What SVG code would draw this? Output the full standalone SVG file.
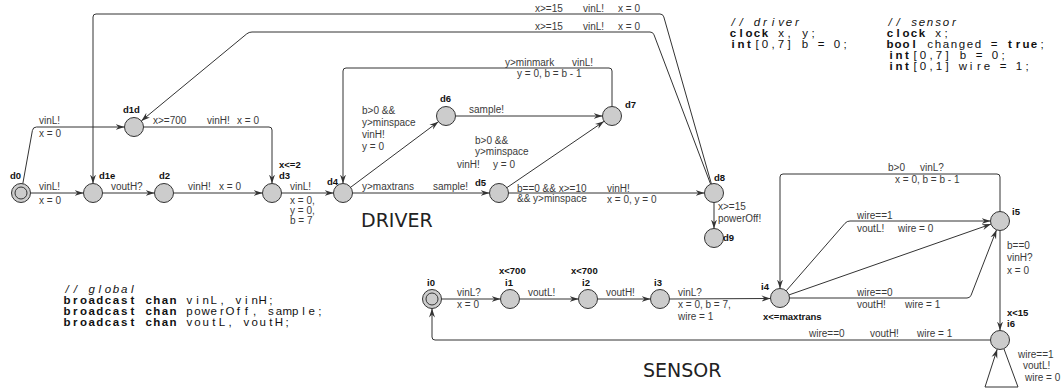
<svg xmlns="http://www.w3.org/2000/svg" width="1064" height="391" viewBox="0 0 1064 391">
<style>
.n{fill:#cccccc;stroke:#333;stroke-width:1}
.e{fill:none;stroke:#333;stroke-width:1}
.l{font-family:"Liberation Sans",Arial,sans-serif;font-size:10px;fill:#3a3a3a}
.b{font-family:"Liberation Sans",Arial,sans-serif;font-size:9.5px;font-weight:bold;fill:#111}
.d{font-family:"Liberation Sans",Arial,sans-serif;font-size:11.5px;fill:#111;text-anchor:middle}
.d .k{font-weight:bold}
.d .c{font-style:italic}
.t{font-family:"DejaVu Sans",sans-serif;font-size:19px;fill:#222}
</style>
<defs>
<marker id="a" markerUnits="userSpaceOnUse" markerWidth="10" markerHeight="8" refX="9" refY="3.5" orient="auto">
<path d="M0,0.5 L9,3.5 L0,6.5 L3,3.5 z" fill="#333"/>
</marker>
</defs>
<rect width="1064" height="391" fill="#fff"/>

<g id="connectors">
<path class="e" marker-end="url(#a)" d="M30.5,193 L83.5,193"/>
<path class="e" marker-end="url(#a)" d="M22.8,183.7 L32.4,130.5 Q33,127 36.5,127 L124.5,127"/>
<path class="e" marker-end="url(#a)" d="M102.5,193 L154.5,193"/>
<path class="e" marker-end="url(#a)" d="M173.5,193 L262.5,193"/>
<path class="e" marker-end="url(#a)" d="M143.5,127 L269,127 Q272,127 272,130 L272,183.5"/>
<path class="e" marker-end="url(#a)" d="M281.5,193 L333.5,193"/>
<path class="e" marker-end="url(#a)" d="M352.5,193 L489.5,193"/>
<path class="e" marker-end="url(#a)" d="M350.6,187.3 L438.4,121.7"/>
<path class="e" marker-end="url(#a)" d="M455.5,116 L602.5,116"/>
<path class="e" marker-end="url(#a)" d="M506.9,187.6 L604.1,121.3"/>
<path class="e" marker-end="url(#a)" d="M612,106.5 L612,71 Q612,68 609,68 L346,68 Q343,68 343,71 L343,183.5"/>
<path class="e" marker-end="url(#a)" d="M508.5,193 L704.5,193"/>
<path class="e" marker-end="url(#a)" d="M714,202.5 L714,228.5"/>
<path class="e" marker-end="url(#a)" d="M711.4,183.9 L663.8,16.9 Q663,14 660,14 L96,14 Q93,14 93,17 L93,183.5"/>
<path class="e" marker-end="url(#a)" d="M710.6,184.1 L654,34.8 Q653,32 650,32 L252,32 Q249,32 246.7,33.9 L141.3,120.9"/>

<path class="e" marker-end="url(#a)" d="M441.5,299 L500.5,299"/>
<path class="e" marker-end="url(#a)" d="M519.5,299 L578.5,299"/>
<path class="e" marker-end="url(#a)" d="M597.5,299 L650.5,299"/>
<path class="e" marker-end="url(#a)" d="M669.5,299 L770.5,298.5"/>
<path class="e" marker-end="url(#a)" d="M1000,211.5 L1000,177 Q1000,174 997,174 L783,174 Q780,174 780,177 L780,288.5"/>
<path class="e" marker-end="url(#a)" d="M786.2,290.8 L845,223.3 Q847,221 850,221 L990.5,221"/>
<path class="e" marker-end="url(#a)" d="M789,294.9 L991,224.1"/>
<path class="e" marker-end="url(#a)" d="M789.5,298 L967,298 Q970,298 971.1,295.2 L996.5,229.9"/>
<path class="e" marker-end="url(#a)" d="M1000,230.5 L1000,330.5"/>
<path class="e" marker-end="url(#a)" d="M990.5,340 L435,340 Q432,340 432,337 L432,308.5"/>
<path class="e" marker-end="url(#a)" d="M1004,349 L1018,387 L985,387 L997.2,349.2"/>
</g>

<g id="edge-labels">
<text class="l" x="39" y="190">vinL!</text>
<text class="l" x="39" y="204">x = 0</text>
<text class="l" x="39" y="124">vinL!</text>
<text class="l" x="39" y="137">x = 0</text>
<text class="l" x="111" y="190">voutH?</text>
<text class="l" x="188" y="190">vinH!</text>
<text class="l" x="219" y="190">x = 0</text>
<text class="l" x="153" y="124">x&gt;=700</text>
<text class="l" x="207" y="124">vinH!</text>
<text class="l" x="237" y="124">x = 0</text>
<text class="l" x="290" y="190">vinL!</text>
<text class="l" x="290" y="204">x = 0,</text>
<text class="l" x="290" y="214">y = 0,</text>
<text class="l" x="290" y="224">b = 7</text>
<text class="l" x="362" y="190">y&gt;maxtrans</text>
<text class="l" x="433" y="190">sample!</text>
<text class="l" x="362" y="114">b&gt;0 &amp;&amp;</text>
<text class="l" x="362" y="126">y&gt;minspace</text>
<text class="l" x="362" y="138">vinH!</text>
<text class="l" x="362" y="150">y = 0</text>
<text class="l" x="469" y="113">sample!</text>
<text class="l" x="475" y="144">b&gt;0 &amp;&amp;</text>
<text class="l" x="475" y="155">y&gt;minspace</text>
<text class="l" x="457" y="168">vinH!</text>
<text class="l" x="493" y="168">y = 0</text>
<text class="l" x="505" y="66">y&gt;minmark</text>
<text class="l" x="572" y="66">vinL!</text>
<text class="l" x="517" y="77">y = 0, b = b - 1</text>
<text class="l" x="517" y="192">b==0 &amp;&amp; x&gt;=10</text>
<text class="l" x="517" y="202">&amp;&amp; y&gt;minspace</text>
<text class="l" x="607" y="192">vinH!</text>
<text class="l" x="607" y="203">x = 0, y = 0</text>
<text class="l" x="718" y="210">x&gt;=15</text>
<text class="l" x="718" y="222">powerOff!</text>
<text class="l" x="535" y="12">x&gt;=15</text>
<text class="l" x="583" y="12">vinL!</text>
<text class="l" x="618" y="12">x = 0</text>
<text class="l" x="535" y="30">x&gt;=15</text>
<text class="l" x="583" y="30">vinL!</text>
<text class="l" x="618" y="30">x = 0</text>

<text class="l" x="457" y="296">vinL?</text>
<text class="l" x="457" y="308">x = 0</text>
<text class="l" x="528" y="296">voutL!</text>
<text class="l" x="606" y="296">voutH!</text>
<text class="l" x="678" y="296">vinL?</text>
<text class="l" x="678" y="308">x = 0, b = 7,</text>
<text class="l" x="678" y="320">wire = 1</text>
<text class="l" x="888" y="171">b&gt;0</text>
<text class="l" x="920" y="171">vinL?</text>
<text class="l" x="895" y="183">x = 0, b = b - 1</text>
<text class="l" x="857" y="219">wire==1</text>
<text class="l" x="857" y="232">voutL!</text>
<text class="l" x="898" y="232">wire = 0</text>
<text class="l" x="857" y="296">wire==0</text>
<text class="l" x="857" y="308">voutH!</text>
<text class="l" x="905" y="308">wire = 1</text>
<text class="l" x="1007" y="249">b==0</text>
<text class="l" x="1007" y="261">vinH?</text>
<text class="l" x="1007" y="274">x = 0</text>
<text class="l" x="809" y="337">wire==0</text>
<text class="l" x="870" y="337">voutH!</text>
<text class="l" x="917" y="337">wire = 1</text>
<text class="l" x="1018" y="358">wire==1</text>
<text class="l" x="1023" y="369">voutL!</text>
<text class="l" x="1025" y="381">wire = 0</text>
</g>

<g id="d0"><circle class="n" cx="21" cy="193" r="9.5"/><circle class="n" cx="21" cy="193" r="6"/><text class="b" x="10" y="179">d0</text></g>
<g id="d1d"><circle class="n" cx="134" cy="127" r="9.5"/><text class="b" x="123" y="113">d1d</text></g>
<g id="d1e"><circle class="n" cx="93" cy="193" r="9.5"/><text class="b" x="99" y="179">d1e</text></g>
<g id="d2"><circle class="n" cx="164" cy="193" r="9.5"/><text class="b" x="159" y="179">d2</text></g>
<g id="d3"><circle class="n" cx="272" cy="193" r="9.5"/><text class="b" x="279" y="168">x&lt;=2</text><text class="b" x="279" y="179">d3</text></g>
<g id="d4"><circle class="n" cx="343" cy="193" r="9.5"/><text class="b" x="327" y="185">d4</text></g>
<g id="d5"><circle class="n" cx="499" cy="193" r="9.5"/><text class="b" x="475" y="186">d5</text></g>
<g id="d6"><circle class="n" cx="446" cy="116" r="9.5"/><text class="b" x="440" y="102">d6</text></g>
<g id="d7"><circle class="n" cx="612" cy="116" r="9.5"/><text class="b" x="625" y="108">d7</text></g>
<g id="d8"><circle class="n" cx="714" cy="193" r="9.5"/><text class="b" x="714" y="181">d8</text></g>
<g id="d9"><circle class="n" cx="714" cy="238" r="9.5"/><text class="b" x="723" y="241">d9</text></g>

<g id="i0"><circle class="n" cx="432" cy="299" r="9.5"/><circle class="n" cx="432" cy="299" r="6"/><text class="b" x="427" y="286">i0</text></g>
<g id="i1"><circle class="n" cx="510" cy="299" r="9.5"/><text class="b" x="499" y="274">x&lt;700</text><text class="b" x="505" y="286">i1</text></g>
<g id="i2"><circle class="n" cx="588" cy="299" r="9.5"/><text class="b" x="571" y="274">x&lt;700</text><text class="b" x="582" y="286">i2</text></g>
<g id="i3"><circle class="n" cx="660" cy="299" r="9.5"/><text class="b" x="654" y="286">i3</text></g>
<g id="i4"><circle class="n" cx="780" cy="298" r="9.5"/><text class="b" x="761" y="290">i4</text><text class="b" x="763" y="320">x&lt;=maxtrans</text></g>
<g id="i5"><circle class="n" cx="1000" cy="221" r="9.5"/><text class="b" x="1012" y="215">i5</text></g>
<g id="i6"><circle class="n" cx="1000" cy="340" r="9.5"/><text class="b" x="1007" y="316">x&lt;15</text><text class="b" x="1007" y="327">i6</text></g>

<g id="titles">
<text class="t" x="361" y="227">DRIVER</text>
<text class="t" x="643" y="377">SENSOR</text>
</g>

<g id="declarations">
<text class="d" y="26" x="733 741 749 757 765 773 781 789 797"><tspan class="c">// driver</tspan></text>
<text class="d" y="37" x="733 741 749 757 765 773 781 789 797 805 813"><tspan class="k">clock</tspan> x, y;</text>
<text class="d" y="48" x="733 741 749 757 765 773 781 789 797 805 813 821 829 837 845"><tspan class="k">int</tspan>[0,7] b = 0;</text>
<text class="d" y="26" x="890 898 906 914 922 930 938 946 954"><tspan class="c">// sensor</tspan></text>
<text class="d" y="37" x="890 898 906 914 922 930 938 946"><tspan class="k">clock</tspan> x;</text>
<text class="d" y="48" x="890 898 906 914 922 930 938 946 954 962 970 978 986 994 1002 1010 1018 1026 1034 1042"><tspan class="k">bool</tspan> changed = <tspan class="k">true</tspan>;</text>
<text class="d" y="59" x="891 899 907 915 923 931 939 947 955 963 971 979 987 995 1003"><tspan class="k">int</tspan>[0,7] b = 0;</text>
<text class="d" y="70" x="891 899 907 915 923 931 939 947 955 963 971 979 987 995 1003 1011 1019 1027"><tspan class="k">int</tspan>[0,1] wire = 1;</text>
<text class="d" y="293" x="67.1 75.3 83.4 91.6 99.7 107.9 116 124.2 132.3"><tspan class="c">// global</tspan></text>
<text class="d" y="304" x="67.1 75.3 83.4 91.6 99.7 107.9 116 124.2 132.3 140.5 148.6 156.8 164.9 173.1 181.2 189.4 197.5 205.7 213.8 222 230.1 238.3 246.4 254.6 262.7 270.9"><tspan class="k">broadcast chan</tspan> vinL, vinH;</text>
<text class="d" y="315" x="67.1 75.3 83.4 91.6 99.7 107.9 116 124.2 132.3 140.5 148.6 156.8 164.9 173.1 181.2 189.4 197.5 205.7 213.8 222 230.1 238.3 246.4 254.6 262.7 270.9 279 287.2 295.3 303.5 311.6 319.8"><tspan class="k">broadcast chan</tspan> powerOff, sample;</text>
<text class="d" y="326" x="67.1 75.3 83.4 91.6 99.7 107.9 116 124.2 132.3 140.5 148.6 156.8 164.9 173.1 181.2 189.4 197.5 205.7 213.8 222 230.1 238.3 246.4 254.6 262.7 270.9 279 287.2"><tspan class="k">broadcast chan</tspan> voutL, voutH;</text>
</g>
</svg>
